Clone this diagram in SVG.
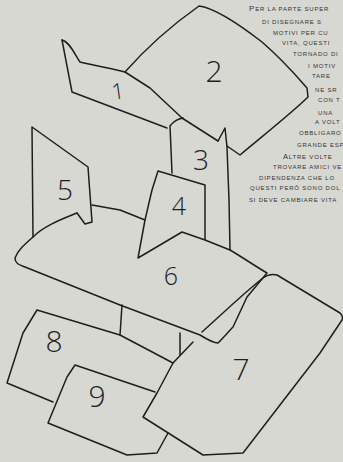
<svg xmlns="http://www.w3.org/2000/svg" width="343" height="462" viewBox="0 0 343 462">
<style>
.o{fill:none;stroke:#1e1e1e;stroke-width:1.5;stroke-linejoin:round;stroke-linecap:round}
.n{font-family:"Open Sans","Liberation Sans",sans-serif;font-weight:300;fill:#1e1e1e;text-anchor:middle}
.t{font-family:"Liberation Sans",sans-serif;font-size:6px;letter-spacing:0.8px;fill:#333}
</style>
<rect width="343" height="462" fill="#d8d8d3"/>
<g id="shape2">
<path class="o" d="M125,72 C140,55 165,30 199,6 C215,8 240,25 262,42 C285,62 300,80 307,88 L308,97 C295,110 270,130 240,155 L227,146"/>
<text class="n" x="214" y="82" font-size="30">2</text>
</g>
<g id="shape1">
<path class="o" d="M62,40 C70,42 75,55 80,62 C95,66 112,68 125,72 L150,88 L182,118 L218,141"/>
<path class="o" d="M62,40 L72,92 L167,128"/>
<text class="n" x="118" y="99" font-size="22" transform="rotate(-8 118 92)">1</text>
</g>
<g id="shape3">
<path class="o" d="M172,173 L170,126 C173,122 177,119 183,118"/>
<path class="o" d="M218,141 L225,128 L227,147 L229,200 L230,250"/>
<text class="n" x="201" y="170" font-size="28">3</text>
</g>
<g id="shape4">
<path class="o" d="M205,240 L205,185 L158,171 L152,190 L145,220 L138,258 L182,232 L205,240 L230,250"/>
<text class="n" x="179" y="215" font-size="25">4</text>
</g>
<g id="shape5">
<path class="o" d="M33,237 L32,127 L88,167 L92,222 L85,224 L77,213"/>
<path class="o" d="M92,205 L120,210 L145,220"/>
<text class="n" x="65" y="200" font-size="28">5</text>
</g>
<g id="shape6">
<path class="o" d="M77,213 C65,218 45,225 33,237 C25,244 18,250 15,258 C15,264 20,265 25,267 L120,305 L200,335 C208,340 213,343 218,343 C224,337 230,330 233,327 L247,297 L267,273 C255,266 242,257 230,250"/>
<line class="o" x1="122" y1="305" x2="120" y2="335"/>
<line class="o" x1="180" y1="333" x2="180" y2="355"/>
<text class="n" x="171" y="285" font-size="25">6</text>
</g>
<g id="shape7">
<path class="o" d="M202,332 C220,316 245,292 263,278 C267,275 272,274 277,275 L340,313 C343,316 343,318 342,320 L320,353 L243,453 L203,455 L143,417 L157,393 L173,363 L193,342"/>
<text class="n" x="241" y="380" font-size="30">7</text>
</g>
<g id="shape8">
<path class="o" d="M173,363 L120,335 L37,310 L23,333 L7,383 L53,402"/>
<text class="n" x="54" y="352" font-size="30">8</text>
</g>
<g id="shape9">
<path class="o" d="M155,392 L75,365 L67,377 L48,423 L127,455 L157,453 L168,433"/>
<text class="n" x="97" y="407" font-size="30">9</text>
</g>
<g id="note">
<text class="t" x="249" y="11"><tspan font-size="8px">P</tspan>ER LA PARTE SUPER</text>
<text class="t" x="262" y="24">DI DISEGNARE S</text>
<text class="t" x="273" y="35">MOTIVI PER CU</text>
<text class="t" x="282" y="45">VITA, QUESTI</text>
<text class="t" x="293" y="56">TORNADO DI</text>
<text class="t" x="308" y="68">I MOTIV</text>
<text class="t" x="312" y="78">TARE</text>
<text class="t" x="315" y="92">NE SR</text>
<text class="t" x="318" y="102">CON T</text>
<text class="t" x="318" y="115">UNA</text>
<text class="t" x="315" y="124">A VOLT</text>
<text class="t" x="299" y="135" letter-spacing="0.1">OBBLIGARO</text>
<text class="t" x="297" y="147">GRANDE ESP</text>
<text class="t" x="283" y="159"><tspan font-size="7.5px">A</tspan>LTRE VOLTE</text>
<text class="t" x="273" y="169">TROVARE AMICI VE</text>
<text class="t" x="259" y="180">DIPENDENZA CHE LO</text>
<text class="t" x="250" y="190">QUESTI PERÒ SONO DOL</text>
<text class="t" x="249" y="202">SI DEVE CAMBIARE VITA</text>
</g>
</svg>
